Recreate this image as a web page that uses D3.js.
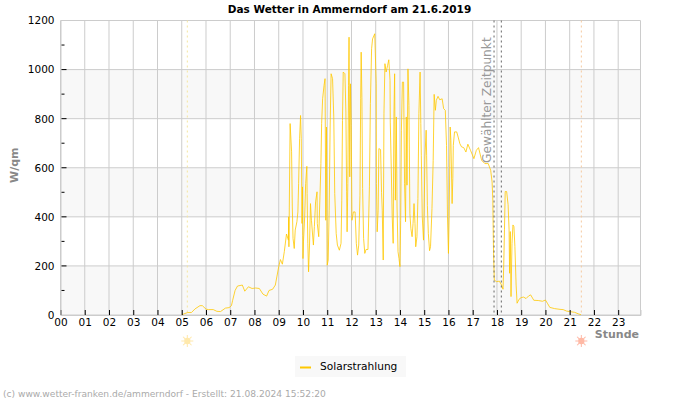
<!DOCTYPE html>
<html><head><meta charset="utf-8">
<script src="https://cdn.jsdelivr.net/npm/d3@7"></script>
<style>html,body{margin:0;padding:0;background:#fff}svg{display:block}text{font-family:"DejaVu Sans",sans-serif}</style>
</head><body><div id="c"></div>
<script>
const titleText = "Das Wetter in Ammerndorf am 21.6.2019";
const yLabel = "W/qm", xLabel = "Stunde", seriesName = "Solarstrahlung";
const footer = "(c) www.wetter-franken.de/ammerndorf - Erstellt: 21.08.2024 15:52:20";
const markerText = "Gewählter Zeitpunkt";
const hourLabels = d3.range(24).map(d => String(d).padStart(2, "0"));
const yMajor = [0,200,400,600,800,1000,1200];
const yMinor = [100,300,500,700,900,1100];
const bands = [[0,200],[400,600],[800,1000]];
const sunrise = 5.23, sunset = 21.48;
const selected = [17.88, 18.18];
const hours = [5,5.1,5.25,5.4,5.55,5.75,5.85,6,6.1,6.3,6.45,6.6,6.8,6.95,7.05,7.1,7.2,7.3,7.5,7.6,7.75,7.9,8.05,8.2,8.35,8.5,8.6,8.75,8.86,
9,9.07,9.15,9.23,9.32,9.4,9.41,9.42,9.47,9.53,9.56,9.59,9.64,9.68,9.75,9.79,9.82,9.86,9.9,9.93,9.96,9.98,9.99,10,10.02,10.07,10.11,10.16,10.17,10.2,10.23,10.27,10.31,10.35,10.43,10.47,10.52,10.58,10.59,10.65,10.7,10.74,10.77,10.81,10.87,10.91,10.94,10.97,11,11.04,11.08,11.12,11.16,11.22,11.27,11.31,11.37,11.42,11.5,11.57,11.6,11.63,11.66,11.73,11.77,11.8,11.82,11.85,11.88,11.9,11.93,11.96,11.99,12.02,12.08,12.15,12.2,12.25,12.3,12.35,12.38,12.4,12.43,12.46,12.5,12.55,12.6,12.68,12.74,12.78,12.83,12.87,12.96,13.02,13.03,13.06,13.1,13.13,13.2,13.24,13.27,13.31,13.34,13.38,13.43,13.49,13.54,13.59,13.6,13.64,13.68,13.72,13.75,13.78,13.81,13.85,13.88,13.92,13.96,14,14.03,14.06,14.1,14.15,14.19,14.23,14.26,14.29,14.33,14.37,14.41,14.45,14.5,14.54,14.58,14.62,14.65,14.7,14.74,14.78,14.83,14.86,14.88,14.92,14.97,15,15.03,15.08,15.1,15.13,15.17,15.22,15.26,15.32,15.37,15.41,15.46,15.5,15.57,15.64,15.74,15.8,15.87,15.92,15.96,16,16.03,16.07,16.1,16.15,16.18,16.2,16.25,16.34,16.4,16.47,16.54,16.63,16.72,16.8,16.91,17.05,17.15,17.24,17.37,17.5,17.64,17.74,17.8,17.83,17.85,17.86,17.89,17.98,18.1,18.19,18.25,18.28,18.31,18.34,18.4,18.46,18.5,18.52,18.55,18.58,18.62,18.66,18.7,18.74,18.79,18.83,18.91,19,19.1,19.2,19.31,19.39,19.52,19.7,19.88,20,20.08,20.18,20.38,20.6,20.73,20.87,21,21.2,21.35,21.47];
const solar = [0,5,10,10,25,38,38,24,22,22,15,14,28,30,38,60,100,118,122,97,115,108,110,108,85,77,100,105,122,
197,226,207,258,330,305,400,278,780,665,440,312,271,346,380,420,535,718,813,718,373,522,325,230,298,400,535,606,495,292,176,285,454,386,285,360,461,502,373,319,481,617,780,881,936,963,386,766,203,224,427,766,983,963,807,495,332,285,264,292,468,793,990,983,827,502,339,535,936,1132,563,942,773,386,420,420,292,244,285,488,881,1071,885,515,312,251,267,267,522,861,1085,1125,1146,942,535,339,427,678,674,500,427,224,820,1024,990,1017,1040,956,786,603,400,292,807,983,468,807,440,258,230,197,386,753,949,949,535,380,807,529,1003,854,413,352,319,373,454,373,278,319,475,820,990,780,651,400,305,440,644,753,651,447,332,262,278,434,630,899,834,875,891,877,881,841,834,691,400,251,407,766,712,454,556,691,746,746,725,698,685,682,664,696,671,637,671,682,630,617,617,590,542,468,311,251,142,136,138,122,105,204,347,503,503,449,347,170,340,75,292,367,360,279,122,48,64,71,73,67,78,82,60,59,56,61,48,31,26,23,22,16,14,11,5,1];

const W = 700, H = 400;
const L = 60.5, R = 640.5, T = 20.5, B = 315;
const x = d3.scaleLinear().domain([0, 23.92]).range([L, R]);
const y = d3.scaleLinear().domain([0, 1200]).range([B, T]);
const svg = d3.select("#c").append("svg").attr("width", W).attr("height", H);

svg.selectAll(".band").data(bands).join("rect")
  .attr("x", L).attr("width", R - L)
  .attr("y", d => y(d[1])).attr("height", d => y(d[0]) - y(d[1])).attr("fill", "#f8f8f8");

const grid = "#cccccc";
svg.selectAll(".gy").data(yMajor).join("line")
  .attr("x1", L).attr("x2", R).attr("y1", d => y(d)).attr("y2", d => y(d))
  .attr("stroke", grid).attr("stroke-width", 1);
svg.selectAll(".gx").data(d3.range(0, 24)).join("line")
  .attr("x1", d => x(d)).attr("x2", d => x(d)).attr("y1", T).attr("y2", B)
  .attr("stroke", grid).attr("stroke-width", 1);
svg.append("line").attr("x1", R).attr("x2", R).attr("y1", T).attr("y2", B).attr("stroke", grid);

// sunrise / sunset
svg.append("line").attr("x1", x(sunrise)).attr("x2", x(sunrise)).attr("y1", T).attr("y2", B)
  .attr("stroke", "#f5e6a0").attr("stroke-dasharray", "2,3");
svg.append("line").attr("x1", x(sunset)).attr("x2", x(sunset)).attr("y1", T).attr("y2", B)
  .attr("stroke", "#f5c9a0").attr("stroke-dasharray", "2,3");

// series
const line = d3.line().x((d, i) => x(hours[i])).y(d => y(d));
svg.append("path").datum(solar).attr("d", line).attr("fill", "none")
  .attr("stroke", "#ffc800").attr("stroke-width", 0.8).attr("stroke-linejoin", "miter").attr("stroke-miterlimit", 2);

// selected time
svg.selectAll(".sel").data(selected).join("line")
  .attr("x1", d => x(d)).attr("x2", d => x(d)).attr("y1", T).attr("y2", B)
  .attr("stroke", "#666").attr("stroke-dasharray", "2,3");
svg.append("text").attr("transform", `translate(${x(selected[0]) - 3},163) rotate(-90)`)
  .attr("font-size", 12.2).attr("fill", "#999").text(markerText);

// axes
const ax = d3.axisBottom(x).tickValues(d3.range(0, 24)).tickFormat(d => hourLabels[d]).tickSize(-5).tickPadding(4);
const gx = svg.append("g").attr("transform", `translate(0,${B})`).call(ax);
gx.select(".domain").attr("stroke", grid);
gx.selectAll(".tick line").attr("stroke", "#000");
gx.selectAll("text").attr("font-size", 10.5).attr("fill", "#000").style("font-family", '"DejaVu Sans"');

const ay = d3.axisLeft(y).tickValues(yMajor).tickFormat(d3.format("d")).tickSize(0).tickPadding(6);
const gy = svg.append("g").attr("transform", `translate(${L},0)`).call(ay);
gy.select(".domain").attr("stroke", grid);
gy.selectAll("text").attr("font-size", 10.5).attr("fill", "#000").style("font-family", '"DejaVu Sans"');
svg.selectAll(".tmaj").data(yMajor.slice(1, -1)).join("line")
  .attr("x1", L + 1).attr("x2", L + 6).attr("y1", d => y(d)).attr("y2", d => y(d)).attr("stroke", "#000");
svg.selectAll(".tmin").data(yMinor).join("line")
  .attr("x1", L + 1).attr("x2", L + 4).attr("y1", d => y(d)).attr("y2", d => y(d)).attr("stroke", "#000");

// suns
function sun(h, col, alpha) {
  const g = svg.append("g").attr("transform", `translate(${x(h)},341)`).attr("opacity", alpha);
  g.selectAll("line").data(d3.range(0, 360, 45)).join("line")
    .attr("x1", 0).attr("x2", 0).attr("y1", 3).attr("y2", 6)
    .attr("transform", d => `rotate(${d})`).attr("stroke", col).attr("stroke-width", 1);
  g.append("circle").attr("r", 3.2).attr("fill", col);
}
sun(sunrise, "#ffe08a", 0.7);
sun(sunset, "#ff9c80", 0.7);

// texts
svg.append("text").attr("x", 349.5).attr("y", 12.5).attr("text-anchor", "middle")
  .attr("font-size", 10.5).attr("font-weight", "bold").attr("fill", "#000").text(titleText);
svg.append("text").attr("transform", "translate(17.5,183) rotate(-90)")
  .attr("font-size", 11).attr("font-weight", "bold").attr("fill", "#888").text(yLabel);
svg.append("text").attr("x", 639).attr("y", 338).attr("text-anchor", "end")
  .attr("font-size", 11).attr("font-weight", "bold").attr("fill", "#888").text(xLabel);

// legend
svg.append("rect").attr("x", 295).attr("y", 356).attr("width", 111).attr("height", 21).attr("fill", "#f8f8f8");
svg.append("line").attr("x1", 300).attr("x2", 311).attr("y1", 367.5).attr("y2", 367.5).attr("stroke", "#ffc800").attr("stroke-width", 2);
svg.append("text").attr("x", 320).attr("y", 370).attr("font-size", 10.6).attr("fill", "#000").text(seriesName);

svg.append("text").attr("x", 3).attr("y", 397).attr("font-size", 9.1).attr("fill", "#aaa").text(footer);
</script></body></html>
